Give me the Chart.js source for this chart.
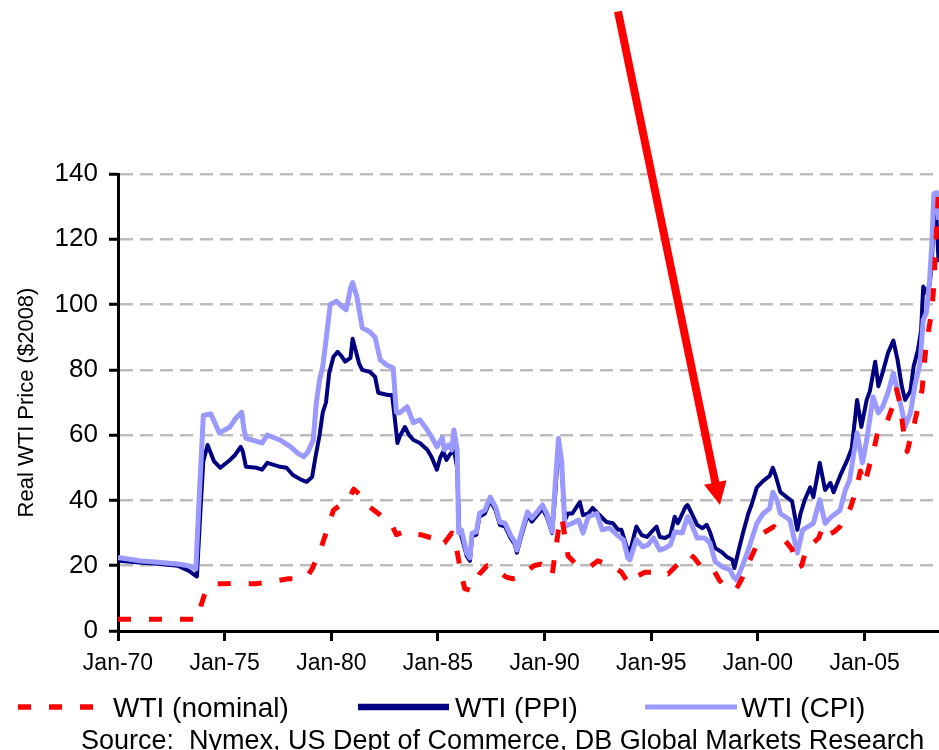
<!DOCTYPE html>
<html>
<head>
<meta charset="utf-8">
<script src="https://cdn.jsdelivr.net/npm/chart.js@4.4.1/dist/chart.umd.min.js"></script>
<style>
html,body{margin:0;padding:0;background:#fff;overflow:hidden}
#wrap{position:relative;width:939px;height:750px}
</style>
</head>
<body>
<div id="wrap"><canvas id="c" width="939" height="750"></canvas></div>
<script>
// ---------- DATA ----------
const xTickYears  = [1970, 1975, 1980, 1985, 1990, 1995, 2000, 2005];
const xTickLabels = ['Jan-70', 'Jan-75', 'Jan-80', 'Jan-85', 'Jan-90', 'Jan-95', 'Jan-00', 'Jan-05'];
const yTickStep = 20;

const nominalYears = [1970.0,1973.75,1973.9,1974.1,1974.5,1975.0,1975.5,1976.0,1976.5,1977.0,1977.5,1978.0,1978.5,1978.9,1979.1,1979.3,1979.55,1979.8,1980.1,1980.5,1980.8,1981.05,1981.3,1981.6,1982.0,1982.4,1982.8,1983.05,1983.4,1983.8,1984.2,1984.7,1985.0,1985.3,1985.65,1985.85,1986.05,1986.25,1986.5,1986.7,1986.95,1987.3,1987.6,1987.9,1988.2,1988.5,1988.8,1989.1,1989.5,1989.8,1990.1,1990.35,1990.5,1990.65,1990.8,1990.95,1991.1,1991.4,1991.8,1992.1,1992.5,1992.9,1993.2,1993.6,1993.9,1994.1,1994.4,1994.7,1995.0,1995.4,1995.8,1996.1,1996.4,1996.8,1997.0,1997.3,1997.6,1997.9,1998.2,1998.5,1998.8,1999.0,1999.25,1999.5,1999.75,2000.0,2000.25,2000.5,2000.75,2001.0,2001.3,2001.6,2001.85,2002.05,2002.3,2002.6,2002.85,2003.05,2003.3,2003.6,2003.85,2004.1,2004.35,2004.6,2004.8,2005.0,2005.2,2005.45,2005.65,2005.85,2006.05,2006.3,2006.5,2006.65,2006.85,2007.0,2007.15,2007.35,2007.55,2007.7,2007.8,2007.9,2008.05,2008.15,2008.25,2008.35,2008.45];
const nominalValues = [3.6,3.6,8,12,14.5,14.5,14.6,14.5,14.5,15,15.5,16,16,17,19,22,26,31,37,39,40,43.5,42,39,37,35,33,29.5,30.5,29.5,29.5,28.5,26,27,30,26,19,13,12.5,14,17.5,20,19.5,18,16.5,16,16.5,18,20,20.5,19.5,17,24,31,35,29,23,21,20.5,19.5,21.5,20.5,20,18,15,14.5,17,18,18,18.5,17.5,19.5,21.5,23.5,22.5,20,20,19,15.5,13.5,12.5,13,16,20,23.5,27,30,31,32,29,27.5,25,19.5,20,26,27,28.5,32,29.5,30.5,32,34.5,38,43,49,45,50,56,62,62.5,64,68.5,74,70,60,55,59,64,70,74,82,88,94,98,106,120,133];

const ppiYears = [1970.0,1971.0,1972.0,1972.8,1973.3,1973.7,1973.85,1974.0,1974.2,1974.5,1974.8,1975.25,1975.5,1975.75,1975.85,1976.0,1976.5,1976.75,1977.0,1977.6,1977.9,1978.2,1978.6,1978.85,1979.1,1979.25,1979.45,1979.6,1979.75,1979.9,1980.1,1980.3,1980.5,1980.65,1980.9,1981.0,1981.1,1981.3,1981.45,1981.8,1982.05,1982.2,1982.65,1982.85,1983.0,1983.1,1983.2,1983.45,1983.65,1983.85,1984.15,1984.5,1984.7,1984.95,1985.1,1985.25,1985.4,1985.55,1985.75,1985.9,1986.0,1986.1,1986.35,1986.5,1986.6,1986.8,1986.95,1987.2,1987.45,1987.7,1987.9,1988.15,1988.4,1988.6,1988.7,1988.95,1989.2,1989.4,1989.65,1989.9,1990.1,1990.35,1990.5,1990.65,1990.8,1990.95,1991.1,1991.3,1991.65,1991.8,1992.05,1992.25,1992.5,1992.9,1993.2,1993.45,1993.6,1993.9,1994.0,1994.3,1994.55,1994.8,1995.1,1995.25,1995.4,1995.65,1995.9,1996.1,1996.25,1996.6,1996.7,1996.9,1997.15,1997.4,1997.6,1997.75,1998.0,1998.3,1998.55,1998.8,1998.9,1999.1,1999.3,1999.55,1999.7,1999.95,2000.25,2000.55,2000.7,2000.85,2001.05,2001.35,2001.6,2001.85,2002.0,2002.2,2002.45,2002.6,2002.9,2003.15,2003.4,2003.55,2003.85,2004.2,2004.4,2004.65,2004.85,2005.1,2005.25,2005.5,2005.65,2005.85,2006.1,2006.35,2006.55,2006.75,2006.9,2007.15,2007.3,2007.5,2007.65,2007.75,2007.9,2008.05,2008.15,2008.25,2008.32,2008.47];
const ppiValues = [21.5,21,20.5,20,18.5,16.7,35,52,57,52,50,52.4,54,56.4,55,50.3,50,49.4,51.5,50.3,50,47.8,46.3,45.7,47.2,53,60,67,70,79,84,85.5,84,82.5,83.7,89.5,87,82,80,79.4,77.9,73,72.3,72.3,63.8,57.6,59.5,62.5,60,58.5,57.6,55.5,53.3,49.4,53,55,52.4,54,55.5,50,31,29,23,21.5,29,29.5,35,36,40,37,32.5,32,28.5,26.5,24,30,35.5,33.5,35.5,37.5,35,30,42,57,50,34,36,36,39.5,35.5,36,37.7,36,33.4,33,31,31,24.8,24.2,32,29.4,28.8,31,32,28.8,28.5,29.4,35,33,38,38.6,36,32.5,31.5,32.5,30.4,25.4,24.2,22.7,21.8,19.3,24.8,30,36,38.6,44,46,47.5,50,47.2,42.6,41,39.8,31,36,40.2,44,41,51.5,43.2,45.4,42.5,47.5,52.5,56,70.8,62.5,70.8,73.5,82.5,75,79.2,85.2,89,83,74.8,70.8,73.5,81,86,92,105.5,103.6,106,112,128,133.5,113];

const cpiYears = [1970.0,1971.0,1972.0,1972.8,1973.3,1973.65,1973.8,1974.0,1974.35,1974.75,1975.25,1975.5,1975.8,1975.9,1976.0,1976.3,1976.75,1977.0,1977.6,1978.1,1978.4,1978.7,1978.9,1979.15,1979.3,1979.45,1979.6,1979.75,1979.95,1980.25,1980.5,1980.7,1980.9,1981.0,1981.2,1981.45,1981.8,1982.05,1982.3,1982.6,1982.9,1983.05,1983.2,1983.55,1983.85,1984.15,1984.4,1984.7,1984.95,1985.2,1985.3,1985.5,1985.65,1985.75,1985.9,1985.97,1986.1,1986.35,1986.5,1986.6,1986.8,1986.95,1987.2,1987.45,1987.7,1987.9,1988.15,1988.4,1988.6,1988.7,1988.95,1989.2,1989.4,1989.65,1989.9,1990.1,1990.35,1990.5,1990.65,1990.8,1990.95,1991.3,1991.6,1991.8,1992.05,1992.45,1992.7,1993.05,1993.4,1993.7,1993.9,1994.0,1994.3,1994.6,1994.85,1995.1,1995.4,1995.65,1995.9,1996.1,1996.45,1996.7,1996.9,1997.15,1997.5,1997.75,1998.0,1998.35,1998.7,1998.85,1999.0,1999.25,1999.5,1999.7,1999.95,2000.25,2000.55,2000.7,2000.9,2001.05,2001.5,2001.85,2002.1,2002.6,2002.9,2003.15,2003.45,2003.85,2004.1,2004.3,2004.65,2004.9,2005.1,2005.4,2005.65,2005.85,2006.1,2006.35,2006.5,2006.75,2006.9,2007.15,2007.35,2007.6,2007.75,2007.9,2008.05,2008.15,2008.25,2008.38,2008.47];
const cpiValues = [22.5,21.5,21,20.5,20,19,40,66,66.5,60.7,62.5,65,67,62,59,58.5,57.6,60,58.5,56.4,54.6,53.4,54.8,58.5,70,77,81,89,100,101,99.4,98.4,105,106.7,102.4,92.9,91.7,90,83,81.5,80.6,67,66.8,68.7,63.8,64.7,62.5,59.5,56.4,59.2,55.5,57,55.5,61.6,55.5,30,31,23.9,22.4,30,30.4,36,37,41,38,33.4,33,29.4,27.3,24.8,31,36.5,34.6,36.5,38.6,36,30.4,45,59,52,32,33,34,30,35,36,31,31.6,29.4,27.9,22.4,21.8,28,25.8,26.4,28.5,24.8,25.4,26.4,30.4,30,35,32.5,28.5,28.5,27,21.2,19.6,18.7,16.6,15.6,19.6,23.9,27.9,33,36,37.5,42.5,40,36,34,23.9,31,33,40.2,33,35,37,43.2,46.3,60.7,51.5,58.5,71.7,66.8,68.7,73,79,74.8,67.7,62.5,66.8,74.8,82,95.3,97.5,107.6,118,134,134.3,126];

// annotation arrow (data coordinates: year, value)
const arrowTail = [1993.44, 189.8];
const arrowTip  = [1998.22, 38.6];

const sourceText = 'Source:  Nymex, US Dept of Commerce, DB Global Markets Research';

// ---------- CHART ----------
const FONT = "'Liberation Sans', Arial, Helvetica, sans-serif";
Chart.defaults.font.family = FONT;
Chart.defaults.color = '#000';

const toPoints = (xs, ys) => xs.map((x, i) => ({ x: x, y: ys[i] }));

const legendLayout = [ // sample start, sample end, text start (layout only)
  { s: 18, e: 96, t: 113, w: 5.5 },
  { s: 358, e: 449, t: 455, w: 6.5 },
  { s: 645, e: 737, t: 741, w: 5 }
];

const extras = {
  id: 'extras',
  afterDraw(chart) {
    const { ctx, scales, chartArea } = chart;
    const xs = scales.x, ys = scales.y;
    ctx.save();
    // arrow
    const x1 = xs.getPixelForValue(arrowTail[0]), y1 = ys.getPixelForValue(arrowTail[1]);
    const x2 = xs.getPixelForValue(arrowTip[0]),  y2 = ys.getPixelForValue(arrowTip[1]);
    const ang = Math.atan2(y2 - y1, x2 - x1);
    const headLen = 23, headHalf = 11.5;
    const bx = x2 - headLen * Math.cos(ang), by = y2 - headLen * Math.sin(ang);
    ctx.strokeStyle = '#FF0000'; ctx.fillStyle = '#FF0000';
    ctx.lineWidth = 8; ctx.lineCap = 'butt';
    ctx.beginPath(); ctx.moveTo(x1, y1);
    ctx.lineTo(bx + 2 * Math.cos(ang), by + 2 * Math.sin(ang)); ctx.stroke();
    ctx.beginPath();
    ctx.moveTo(x2, y2);
    ctx.lineTo(bx + headHalf * Math.sin(ang), by - headHalf * Math.cos(ang));
    ctx.lineTo(bx - headHalf * Math.sin(ang), by + headHalf * Math.cos(ang));
    ctx.closePath(); ctx.fill();

    // legend
    const order = ['WTI (nominal)', 'WTI (PPI)', 'WTI (CPI)'];
    const ly = chartArea.bottom + 76;
    ctx.font = '28px ' + FONT;
    ctx.textBaseline = 'alphabetic';
    ctx.textAlign = 'left';
    order.forEach((lab, i) => {
      const ds = chart.data.datasets.find(d => d.label === lab);
      const L = legendLayout[i];
      ctx.save();
      ctx.strokeStyle = ds.borderColor;
      ctx.lineWidth = L.w;
      ctx.lineCap = 'butt';
      ctx.setLineDash(ds.borderDash || []);
      ctx.beginPath(); ctx.moveTo(L.s, ly); ctx.lineTo(L.e, ly); ctx.stroke();
      ctx.restore();
      ctx.fillStyle = '#000';
      ctx.fillText(lab, L.t, chartArea.bottom + 86);
    });

    // source
    ctx.font = '27px ' + FONT;
    ctx.fillStyle = '#000';
    ctx.fillText(sourceText, 81, chartArea.bottom + 118);
    ctx.restore();
  }
};

new Chart(document.getElementById('c'), {
  type: 'line',
  data: {
    datasets: [
      { label: 'WTI (nominal)', data: toPoints(nominalYears, nominalValues), borderColor: '#FF0000',
        borderWidth: 5, borderDash: [13, 18], borderCapStyle: 'butt', order: 0 },
      { label: 'WTI (CPI)', data: toPoints(cpiYears, cpiValues), borderColor: '#9999FF',
        borderWidth: 5, order: 1 },
      { label: 'WTI (PPI)', data: toPoints(ppiYears, ppiValues), borderColor: '#000080',
        borderWidth: 4, order: 2 }
    ]
  },
  options: {
    responsive: false,
    animation: false,
    events: [],
    parsing: true,
    elements: {
      point: { radius: 0, hoverRadius: 0 },
      line: { tension: 0, fill: false, borderJoinStyle: 'round' }
    },
    layout: { padding: { top: 174, left: 0, right: 0, bottom: 0 } },
    plugins: { legend: { display: false }, tooltip: { enabled: false }, title: { display: false } },
    scales: {
      x: {
        type: 'linear', min: 1970, max: 2008.49,
        afterBuildTicks: s => { s.ticks = xTickYears.map(v => ({ value: v })); },
        afterFit: s => { s.height = 119; },
        ticks: {
          autoSkip: false, maxRotation: 0, padding: 9,
          font: { size: 23 }, color: '#000',
          callback: v => xTickLabels[xTickYears.indexOf(v)]
        },
        grid: { display: true, drawOnChartArea: false, drawTicks: true, tickLength: 10, tickColor: '#000', tickWidth: 3 },
        border: { display: true, color: '#000', width: 3 }
      },
      y: {
        type: 'linear', min: 0, max: 140,
        afterFit: s => { s.width = 118; },
        ticks: { stepSize: yTickStep, padding: 11, font: { size: 26 }, color: '#000' },
        grid: { color: '#BDBDBD', lineWidth: 2.5, tickLength: 9, tickColor: '#000', tickWidth: 3, tickBorderDash: [] },
        border: { display: true, color: '#000', width: 3, dash: [13, 7] },
        title: { display: true, text: 'Real WTI Price ($2008)', font: { size: 22 }, color: '#000', padding: { top: 14, bottom: 0 } }
      }
    }
  },
  plugins: [extras]
});
</script>
</body>
</html>
